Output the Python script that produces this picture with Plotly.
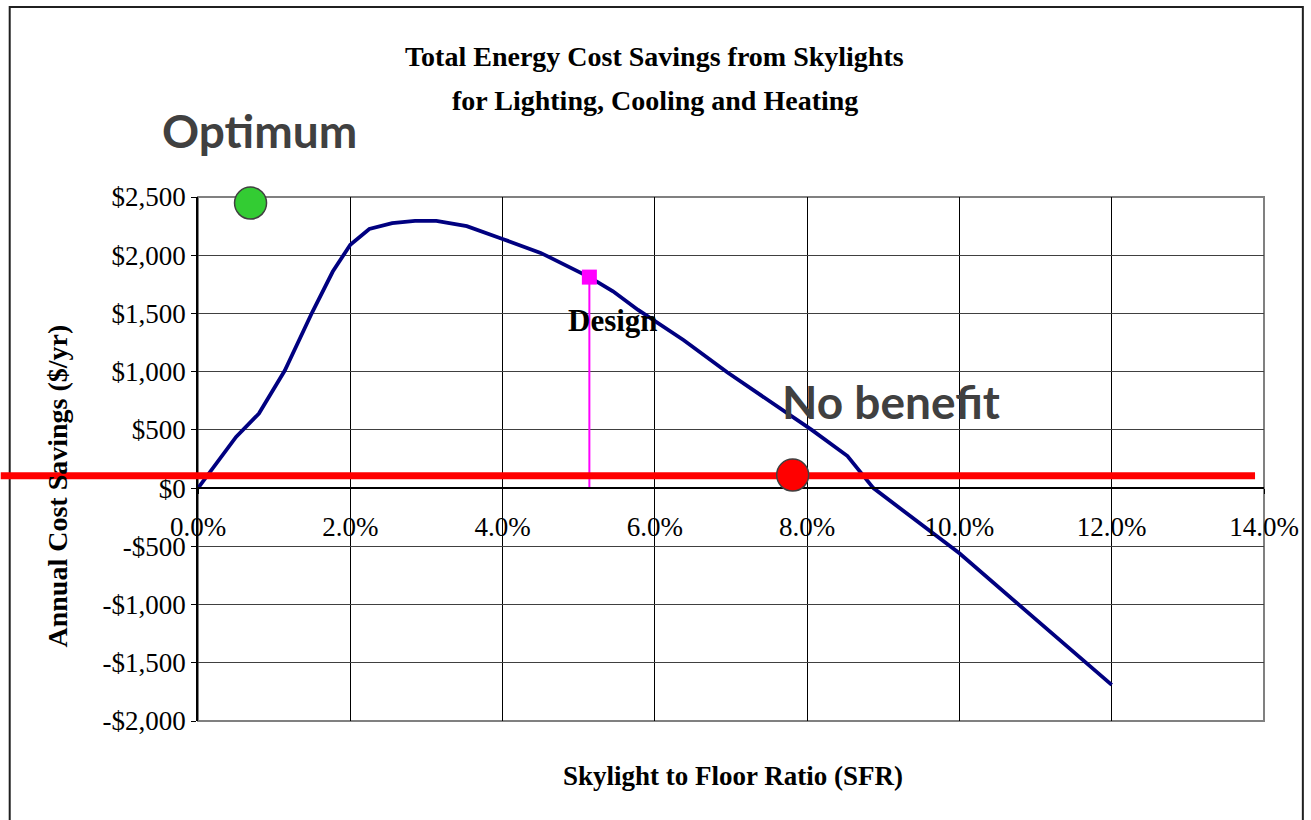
import plotly.graph_objects as go

# ---------------- data ----------------
sfr = [0.0, 0.005, 0.008, 0.0114, 0.015, 0.0177, 0.020, 0.0225, 0.0255, 0.0285,
       0.0313, 0.0353, 0.040, 0.045, 0.0514, 0.0545, 0.0578, 0.0638, 0.0695,
       0.076, 0.0806, 0.0853, 0.0887, 0.100, 0.120]
savings = [0, 440, 640, 1010, 1510, 1860, 2090, 2225, 2275, 2295,
           2295, 2250, 2140, 2020, 1812, 1690, 1530, 1270, 995,
           710, 500, 275, 0, -560, -1690]

design_sfr = [0.0514, 0.0514]
design_savings = [1812, 0]

optimum_marker_sfr = [0.0069]
optimum_marker_savings = [2448]
no_benefit_sfr = 0.0781
no_benefit_savings = 112
breakeven_line_value = 107

x_tick_values = [0, 0.02, 0.04, 0.06, 0.08, 0.10, 0.12, 0.14]
y_tick_values = [2500, 2000, 1500, 1000, 500, 0, -500, -1000, -1500, -2000]
y_tick_labels = ["$2,500", "$2,000", "$1,500", "$1,000", "$500", "$0",
                 "-$500", "-$1,000", "-$1,500", "-$2,000"]
x_range = [0, 0.14]
y_range = [-2000, 2500]

title_lines = ["Total Energy Cost Savings from Skylights",
               "for Lighting, Cooling and Heating"]
x_title = "Skylight to Floor Ratio (SFR)"
y_title = "Annual Cost Savings ($/yr)"

SERIF = "Liberation Serif, Times New Roman, serif"
SANS = "Lato, Open Sans, sans-serif"

W, H = 1311, 820
ML, MR, MT, MB = 198, 43, 197, 99
PW, PH = W - ML - MR, H - MT - MB


def px_x(p):
    return (p - ML) / PW


def px_y(p):
    return (H - MB - p) / PH


fig = go.Figure()

# main curve
fig.add_trace(go.Scatter(x=sfr, y=savings, mode="lines",
                         line=dict(color="#000080", width=3.8),
                         hoverinfo="skip", showlegend=False))

# design drop line + marker
fig.add_trace(go.Scatter(x=design_sfr, y=design_savings, mode="lines",
                         line=dict(color="#FF00FF", width=2),
                         showlegend=False, hoverinfo="skip"))
fig.add_trace(go.Scatter(x=design_sfr[:1], y=design_savings[:1], mode="markers",
                         marker=dict(symbol="square", size=15, color="#FF00FF"),
                         showlegend=False, cliponaxis=False))

# optimum marker
fig.add_trace(go.Scatter(x=optimum_marker_sfr, y=optimum_marker_savings, mode="markers",
                         marker=dict(size=32, color="#33CC33",
                                     line=dict(color="#404040", width=1.5)),
                         showlegend=False, cliponaxis=False))

zero_pos = (0 - y_range[0]) / (y_range[1] - y_range[0])
line_pos = (breakeven_line_value - y_range[0]) / (y_range[1] - y_range[0])

shapes = [
    # outer chart frame
    dict(type="rect", xref="paper", yref="paper",
         x0=px_x(9), x1=px_x(1307), y0=px_y(830), y1=px_y(7),
         line=dict(color="#202020", width=2), layer="below"),
    # plot-area border
    dict(type="rect", xref="paper", yref="paper", x0=0, x1=1, y0=0, y1=1,
         line=dict(color="#808080", width=2), layer="below"),
    # red breakeven line
    dict(type="line", xref="paper", yref="paper",
         x0=px_x(0), x1=px_x(1259), y0=line_pos, y1=line_pos,
         line=dict(color="#FF0000", width=7), layer="above"),
    # red "no benefit" circle
    dict(type="circle", xref="x", yref="y",
         xsizemode="pixel", ysizemode="pixel",
         xanchor=no_benefit_sfr, yanchor=no_benefit_savings,
         x0=-16, x1=16, y0=-16, y1=16,
         fillcolor="#FF0000", line=dict(color="#404040", width=1.5), layer="above"),
]


def ann(text, x, y, size, family=SERIF, color="black", **kw):
    d = dict(text=text, xref="paper", yref="paper", x=px_x(x), y=px_y(y),
             xanchor="center", yanchor="middle", showarrow=False,
             font=dict(family=family, size=size, color=color))
    d.update(kw)
    return d


annotations = [
    ann("<b>%s</b>" % title_lines[0], 656, 56, 28),
    ann("<b>%s</b>" % title_lines[1], 657, 101, 28),
    ann("<b>%s</b>" % x_title, 735, 776, 27),
    ann("<b>%s</b>" % y_title, 56, 486, 28, textangle=-90),
    ann("<b>Optimum</b>", 260, 130, 46, family=SANS, color="#404040"),
    ann("<b>No benefit</b>", 894, 401, 46, family=SANS, color="#404040"),
    dict(text="<b>Design</b>", xref="x", yref="y",
         x=design_sfr[0], y=design_savings[0], xshift=24, yshift=-43,
         xanchor="center", yanchor="middle", showarrow=False,
         font=dict(family=SERIF, size=31, color="black")),
]

fig.update_layout(
    width=W, height=H, autosize=False,
    margin=dict(l=ML, r=MR, t=MT, b=MB, pad=0),
    paper_bgcolor="white", plot_bgcolor="white",
    shapes=shapes, annotations=annotations,
    xaxis=dict(range=x_range, tickvals=x_tick_values, tickformat=".1%",
               showgrid=True, gridcolor="black", gridwidth=1,
               zeroline=False, showline=True, linecolor="black", linewidth=1.5,
               anchor="free", position=zero_pos,
               ticks="outside", ticklen=5, tickcolor="black",
               ticklabelstandoff=10,
               tickfont=dict(family=SERIF, size=27, color="black")),
    yaxis=dict(range=y_range, tickvals=y_tick_values, ticktext=y_tick_labels,
               showgrid=True, gridcolor="#404040", gridwidth=1,
               zeroline=False, showline=True, linecolor="black", linewidth=1.5,
               ticks="outside", ticklen=5, tickcolor="black",
               tickfont=dict(family=SERIF, size=27, color="black")),
    showlegend=False,
)

fig.write_html("out.html", config={"displayModeBar": False},
               post_script="document.body.style.margin='0';")
